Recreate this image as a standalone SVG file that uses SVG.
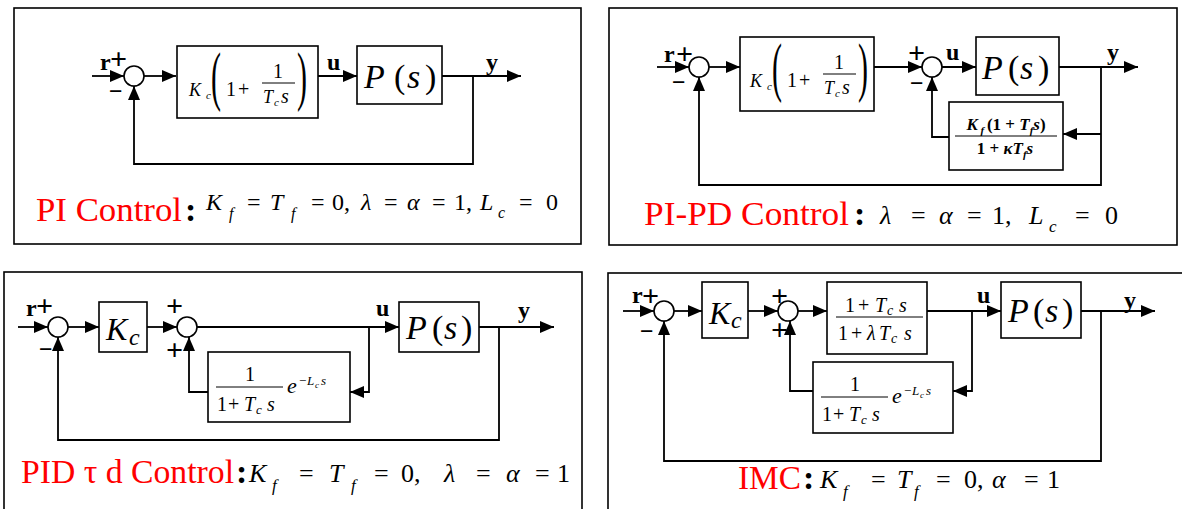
<svg xmlns="http://www.w3.org/2000/svg" width="1182" height="509" viewBox="0 0 1182 509" font-family="'Liberation Serif', 'DejaVu Serif', serif">
<defs>
<marker id="ah" markerWidth="14" markerHeight="12" refX="14" refY="6" orient="auto" markerUnits="userSpaceOnUse"><path d="M0,0 L14,6 L0,12 z" fill="#000"/></marker>
<style>
text, tspan{font-family:'Liberation Serif','DejaVu Serif','Times New Roman',serif}
text{fill:#000}
.frame{fill:none;stroke:#000;stroke-width:1.6}
.blk{fill:#fff;stroke:#000;stroke-width:1.6}
.sum{fill:#fff;stroke:#000;stroke-width:1.6}
.ln{fill:none;stroke:#000;stroke-width:1.8;marker-end:url(#ah)}
.bar{stroke:#000;stroke-width:1}
.sig{font-weight:bold;font-size:24px}
.pm{font-weight:bold;font-size:30px}
.mn{font-weight:bold;font-size:24px}
.red{fill:#ff0000;font-size:34px}
.col{font-size:34px;font-weight:bold}
.i{font-style:italic}
.m1{font-size:24px}
.m2{font-size:26px}
.s1{font-size:16px}
.s2{font-size:17px}
.ps{font-size:34px}
.f20{font-size:20px}
.f18{font-size:18px}
.f13{font-size:13px}
.f11{font-size:11px}
.f9{font-size:9px}
.par{font-size:30px}
.kf{font-size:17px;font-weight:bold}
</style>
</defs>
<rect x="0" y="0" width="1182" height="509" fill="#fff"/>

<g id="frames">
<rect class="frame" x="14" y="8" width="567" height="236"/>
<rect class="frame" x="609" y="8" width="568" height="237"/>
<rect class="frame" x="4" y="272" width="578" height="250"/>
<rect class="frame" x="608" y="273" width="590" height="250"/>
</g>

<g id="connectors">
<path class="ln" d="M92,76H124"/>
<path class="ln" d="M144,76H176"/>
<path class="ln" d="M318,76H357"/>
<path class="ln" d="M442,76H521"/>
<path class="ln" d="M473,76V164H134V86"/>
<path class="ln" d="M657,67H689"/>
<path class="ln" d="M709,67H740"/>
<path class="ln" d="M874,67H922"/>
<path class="ln" d="M942,67H976"/>
<path class="ln" d="M1059,67H1138"/>
<path class="ln" d="M1101,67V185H699V77"/>
<path class="ln" d="M1101,134H1063"/>
<path class="ln" d="M949,137H932V77"/>
<path class="ln" d="M18,327H48"/>
<path class="ln" d="M68,327H99"/>
<path class="ln" d="M147,327H177"/>
<path class="ln" d="M197,327H399"/>
<path class="ln" d="M369,327V392H350"/>
<path class="ln" d="M208,392H189V337"/>
<path class="ln" d="M479,327H554"/>
<path class="ln" d="M499,327V440H58V337"/>
<path class="ln" d="M623,311H654"/>
<path class="ln" d="M674,311H702"/>
<path class="ln" d="M748,311H778"/>
<path class="ln" d="M798,311H827"/>
<path class="ln" d="M927,311H1001"/>
<path class="ln" d="M972,311V391H953"/>
<path class="ln" d="M813,391H790V321"/>
<path class="ln" d="M1081,311H1155"/>
<path class="ln" d="M1101,311V461H664V321"/>
</g>

<!-- Panel 1 -->
<g id="p1-sum">
<circle class="sum" cx="134" cy="76" r="10"/>
<text class="sig" x="100" y="70">r</text>
<text class="pm" x="110" y="69">+</text>
<text class="mn" x="109" y="99">−</text>
</g>
<g id="p1-kc">
<rect class="blk" x="177" y="46" width="141" height="72"/>
<text class="f18 i" x="189" y="96">K</text>
<text class="f11 i" x="206" y="99">c</text>
<text class="par" transform="translate(211,98) scale(1,2.2)">(</text>
<text class="f20" x="226" y="96">1</text>
<text class="f20" x="238" y="96">+</text>
<text class="f20" x="278" y="78" text-anchor="middle">1</text>
<line class="bar" x1="262" y1="83" x2="295" y2="83"/>
<text class="f18 i" x="263" y="103">T</text>
<text class="f11 i" x="274" y="106">c</text>
<text class="f20 i" x="281" y="103">s</text>
<text class="par" transform="translate(297,98) scale(1,2.2)">)</text>
</g>
<g id="p1-plant">
<rect class="blk" x="357" y="46" width="85" height="58"/>
<text class="ps" y="88"><tspan class="i" x="364">P</tspan><tspan x="394">(</tspan><tspan class="i" x="407">s</tspan><tspan x="425">)</tspan></text>
</g>
<g id="p1-labels">
<text class="sig" x="327" y="70">u</text>
<text class="sig" x="486" y="70">y</text>
<text class="red" x="36" y="221" textLength="146" lengthAdjust="spacingAndGlyphs">PI Control</text>
<text class="col" x="185" y="221">:</text>
<text class="m1" y="210"><tspan class="i" x="206">K</tspan><tspan class="i s1" x="229" dy="9">f</tspan><tspan x="247" dy="-9">=</tspan><tspan class="i" x="270">T</tspan><tspan class="i s1" x="291" dy="9">f</tspan><tspan x="311" dy="-9">=</tspan><tspan x="332">0,</tspan><tspan class="i" x="361">λ</tspan><tspan x="384">=</tspan><tspan class="i" x="407">α</tspan><tspan x="432">=</tspan><tspan x="454">1,</tspan><tspan class="i" x="480">L</tspan><tspan class="i s1" x="498" dy="8">c</tspan><tspan x="519" dy="-8">=</tspan><tspan x="546">0</tspan></text>
</g>

<!-- Panel 2 -->
<g id="p2-sum1">
<circle class="sum" cx="699" cy="67" r="10"/>
<text class="sig" x="664" y="62">r</text>
<text class="pm" x="676" y="64">+</text>
<text class="mn" x="672" y="90">−</text>
</g>
<g id="p2-kc">
<rect class="blk" x="740" y="37" width="134" height="74"/>
<text class="f18 i" x="750" y="87">K</text>
<text class="f11 i" x="767" y="90">c</text>
<text class="par" transform="translate(772,89) scale(1,2.2)">(</text>
<text class="f20" x="787" y="87">1</text>
<text class="f20" x="799" y="87">+</text>
<text class="f20" x="839" y="69" text-anchor="middle">1</text>
<line class="bar" x1="823" y1="74" x2="856" y2="74"/>
<text class="f18 i" x="824" y="94">T</text>
<text class="f11 i" x="835" y="97">c</text>
<text class="f20 i" x="842" y="94">s</text>
<text class="par" transform="translate(858,89) scale(1,2.2)">)</text>
</g>
<g id="p2-sum2">
<circle class="sum" cx="932" cy="67" r="10"/>
<text class="pm" x="908" y="63">+</text>
<text class="mn" x="910" y="91">−</text>
</g>
<g id="p2-plant">
<rect class="blk" x="976" y="37" width="83" height="58"/>
<text class="ps" y="79"><tspan class="i" x="982">P</tspan><tspan x="1008">(</tspan><tspan class="i" x="1020">s</tspan><tspan x="1038">)</tspan></text>
</g>
<g id="p2-kf">
<rect class="blk" x="949" y="102" width="114" height="68"/>
<text class="kf" x="1006" y="130" text-anchor="middle"><tspan class="i">K</tspan><tspan class="i f11" dy="4"> f </tspan><tspan dy="-4">(1 + </tspan><tspan class="i">T</tspan><tspan class="i f11" dy="4">f</tspan><tspan class="i" dy="-4">s</tspan>)</text>
<line class="bar" x1="955" y1="136" x2="1057" y2="136" stroke-width="1.4"/>
<text class="kf" x="1005" y="154" text-anchor="middle">1 + <tspan class="i">κT</tspan><tspan class="i f11" dy="4">f</tspan><tspan class="i" dy="-4">s</tspan></text>
</g>
<g id="p2-labels">
<text class="sig" x="946" y="60">u</text>
<text class="sig" x="1107" y="60">y</text>
<text class="red" x="644" y="225" textLength="205" lengthAdjust="spacingAndGlyphs">PI-PD Control</text>
<text class="col" x="854" y="225">:</text>
<text class="m2" y="224"><tspan class="i" x="880">λ</tspan><tspan x="911">=</tspan><tspan class="i" x="939">α</tspan><tspan x="967">=</tspan><tspan x="992">1,</tspan><tspan class="i" x="1029">L</tspan><tspan class="i s2" x="1049" dy="8">c</tspan><tspan x="1075" dy="-8">=</tspan><tspan x="1105">0</tspan></text>
</g>

<!-- Panel 3 -->
<g id="p3-sum1">
<circle class="sum" cx="58" cy="327" r="10"/>
<text class="sig" x="26" y="316">r</text>
<text class="pm" x="36" y="316">+</text>
<text class="mn" x="39" y="357">−</text>
</g>
<g id="p3-kc">
<rect class="blk" x="99" y="302" width="48" height="50"/>
<text class="i" font-size="32" x="106" y="340">K</text>
<text class="i" font-size="24" x="129" y="345">c</text>
</g>
<g id="p3-sum2">
<circle class="sum" cx="187" cy="327" r="10"/>
<text class="pm" x="166" y="316">+</text>
<text class="pm" x="166" y="360">+</text>
</g>
<g id="p3-delay">
<rect class="blk" x="208" y="352" width="142" height="70"/>
<text class="f20" x="250" y="381" text-anchor="middle">1</text>
<line class="bar" x1="216" y1="387" x2="283" y2="387"/>
<text class="f20" y="411"><tspan x="217">1</tspan><tspan x="228">+</tspan><tspan class="i" x="244">T</tspan><tspan class="i f13" x="256" dy="3">c</tspan><tspan class="i" x="267" dy="-3">s</tspan></text>
<text class="i" font-size="22" x="287" y="393">e</text>
<text class="f13" y="385"><tspan x="299">−</tspan><tspan class="i" x="307">L</tspan><tspan class="i f9" x="315" dy="3">c</tspan><tspan class="i" x="321" dy="-3">s</tspan></text>
</g>
<g id="p3-plant">
<rect class="blk" x="399" y="302" width="80" height="50"/>
<text class="ps" y="339"><tspan class="i" x="406">P</tspan><tspan x="432">(</tspan><tspan class="i" x="444">s</tspan><tspan x="461">)</tspan></text>
</g>
<g id="p3-labels">
<text class="sig" x="376" y="316">u</text>
<text class="sig" x="518" y="318">y</text>
<text class="red" x="21" y="483" textLength="213" lengthAdjust="spacingAndGlyphs">PID τ d Control</text>
<text class="col" x="236" y="483">:</text>
<text class="m2" y="482"><tspan class="i" x="249">K</tspan><tspan class="i s2" x="272" dy="9">f</tspan><tspan x="299" dy="-9">=</tspan><tspan class="i" x="329">T</tspan><tspan class="i s2" x="351" dy="9">f</tspan><tspan x="374" dy="-9">=</tspan><tspan x="401">0,</tspan><tspan class="i" x="444">λ</tspan><tspan x="476">=</tspan><tspan class="i" x="506">α</tspan><tspan x="535">=</tspan><tspan x="557">1</tspan></text>
</g>

<!-- Panel 4 -->
<g id="p4-sum1">
<circle class="sum" cx="664" cy="311" r="10"/>
<text class="sig" x="632" y="303">r</text>
<text class="pm" x="642" y="306">+</text>
<text class="mn" x="640" y="339">−</text>
</g>
<g id="p4-kc">
<rect class="blk" x="702" y="282" width="46" height="56"/>
<text class="i" font-size="32" x="709" y="324">K</text>
<text class="i" font-size="24" x="731" y="328">c</text>
</g>
<g id="p4-sum2">
<circle class="sum" cx="788" cy="311" r="10"/>
<text class="pm" x="771" y="306">+</text>
<text class="pm" x="771" y="340">+</text>
</g>
<g id="p4-leadlag">
<rect class="blk" x="827" y="282" width="100" height="72"/>
<text class="f20" y="312"><tspan x="845">1</tspan><tspan x="858">+</tspan><tspan class="i" x="875">T</tspan><tspan class="i" font-size="14" x="887" dy="3">c</tspan><tspan class="i" x="899" dy="-3">s</tspan></text>
<line class="bar" x1="836" y1="317" x2="923" y2="317"/>
<text class="f20" y="340"><tspan x="838">1</tspan><tspan x="851">+</tspan><tspan class="i" x="867">λ</tspan><tspan class="i" x="879">T</tspan><tspan class="i" font-size="14" x="891" dy="3">c</tspan><tspan class="i" x="904" dy="-3">s</tspan></text>
</g>
<g id="p4-delay">
<rect class="blk" x="813" y="362" width="140" height="71"/>
<text class="f20" x="855" y="391" text-anchor="middle">1</text>
<line class="bar" x1="821" y1="397" x2="888" y2="397"/>
<text class="f20" y="421"><tspan x="822">1</tspan><tspan x="833">+</tspan><tspan class="i" x="849">T</tspan><tspan class="i f13" x="861" dy="3">c</tspan><tspan class="i" x="872" dy="-3">s</tspan></text>
<text class="i" font-size="22" x="892" y="403">e</text>
<text class="f13" y="395"><tspan x="904">−</tspan><tspan class="i" x="912">L</tspan><tspan class="i f9" x="920" dy="3">c</tspan><tspan class="i" x="926" dy="-3">s</tspan></text>
</g>
<g id="p4-plant">
<rect class="blk" x="1001" y="282" width="80" height="56"/>
<text class="ps" y="322"><tspan class="i" x="1008">P</tspan><tspan x="1033">(</tspan><tspan class="i" x="1045">s</tspan><tspan x="1062">)</tspan></text>
</g>
<g id="p4-labels">
<text class="sig" x="977" y="303">u</text>
<text class="sig" x="1124" y="308">y</text>
<text class="red" x="738" y="489" textLength="63" lengthAdjust="spacingAndGlyphs">IMC</text>
<text class="col" x="803" y="489">:</text>
<text class="m2" y="488"><tspan class="i" x="820">K</tspan><tspan class="i s2" x="843" dy="9">f</tspan><tspan x="871" dy="-9">=</tspan><tspan class="i" x="897">T</tspan><tspan class="i s2" x="914" dy="9">f</tspan><tspan x="936" dy="-9">=</tspan><tspan x="964">0,</tspan><tspan class="i" x="992">α</tspan><tspan x="1024">=</tspan><tspan x="1047">1</tspan></text>
</g>
</svg>
